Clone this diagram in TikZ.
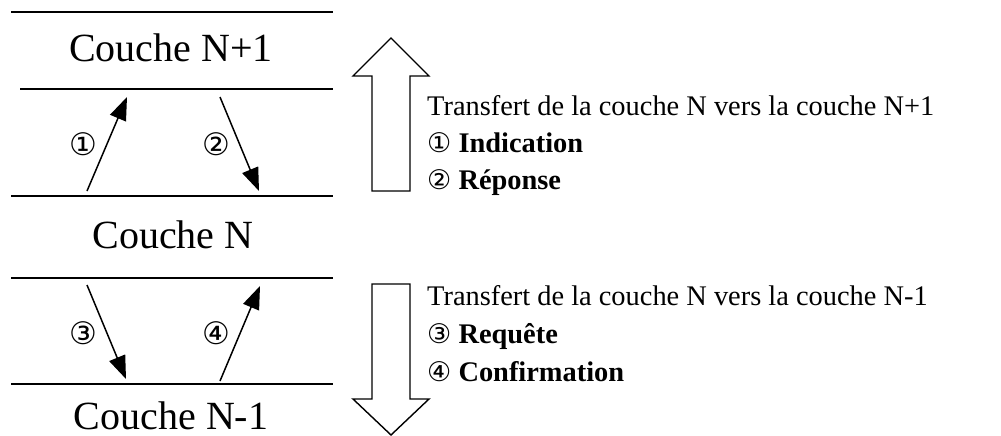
\documentclass[tikz,border=0pt]{standalone}
\usepackage{fontspec}
\setmainfont{Liberation Serif}
\newfontfamily\circfont{DejaVu Sans}
\newcommand{\cnum}[1]{{\circfont\fontsize{27}{27}\selectfont #1}}
\usetikzlibrary{arrows.meta}
\begin{document}
\begin{tikzpicture}[x=1pt,y=-1pt,
  layerline/.style={line width=2pt},
  msg/.style={line width=1.5pt,-{Triangle[length=23pt,width=17pt]}},
  blockarrow/.style={line width=1.4pt,draw=black,fill=white,line join=miter},
  layername/.style={font=\fontsize{40}{40}\selectfont,anchor=base,inner sep=0pt,text depth=0pt},
  num/.style={font=\circfont\fontsize{31}{31}\selectfont,inner sep=0pt},
  legend/.style={font=\fontsize{28.4}{28.4}\selectfont,anchor=base west,inner sep=0pt}]
\useasboundingbox (0,0) rectangle (1001,436);

% layer boundaries
\draw[layerline] (11,12) -- (333,12);
\draw[layerline] (20,89) -- (333,89);
\draw[layerline] (11,196) -- (333,196);
\draw[layerline] (11,278) -- (333,278);
\draw[layerline] (11,384) -- (333,384);

% layer names
\node[layername] (np1) at (171,62) {Couche N+1};
\node[layername] (n)   at (173,248) {Couche N};
\node[layername] (nm1) at (171,429) {Couche N-1};

% primitive endpoints
\coordinate (i0) at (87,191);  \coordinate (i1) at (127,97);
\coordinate (r0) at (220,97);  \coordinate (r1) at (259,191);
\coordinate (q0) at (87,285);  \coordinate (q1) at (126,379);
\coordinate (c0) at (220,381); \coordinate (c1) at (260,286);

\draw[msg] (i0) -- (i1);
\draw[msg] (r0) -- (r1);
\draw[msg] (q0) -- (q1);
\draw[msg] (c0) -- (c1);

\node[num] (l1) at (83,144) {①};
\node[num] (l2) at (216,144) {②};
\node[num] (l3) at (83,333) {③};
\node[num] (l4) at (216,333) {④};

% upward and downward block arrows
\draw[blockarrow] (372,191) -- (372,76) -- (353,76) -- (391,38) -- (429,76)
  -- (410,76) -- (410,191) -- cycle;
\draw[blockarrow] (372,284) -- (372,399) -- (353,399) -- (391,435) -- (429,399)
  -- (410,399) -- (410,284) -- cycle;

% legends
\node[legend] (up)  at (427,115) {Transfert de la couche N vers la couche N+1};
\node[legend] (up1) at (427,152) {\cnum{①} \textbf{Indication}};
\node[legend] (up2) at (427,189) {\cnum{②} \textbf{Réponse}};
\node[legend] (dn)  at (427,305) {Transfert de la couche N vers la couche N-1};
\node[legend] (dn1) at (427,343) {\cnum{③} \textbf{Requête}};
\node[legend] (dn2) at (427,381) {\cnum{④} \textbf{Confirmation}};
\end{tikzpicture}
\end{document}
